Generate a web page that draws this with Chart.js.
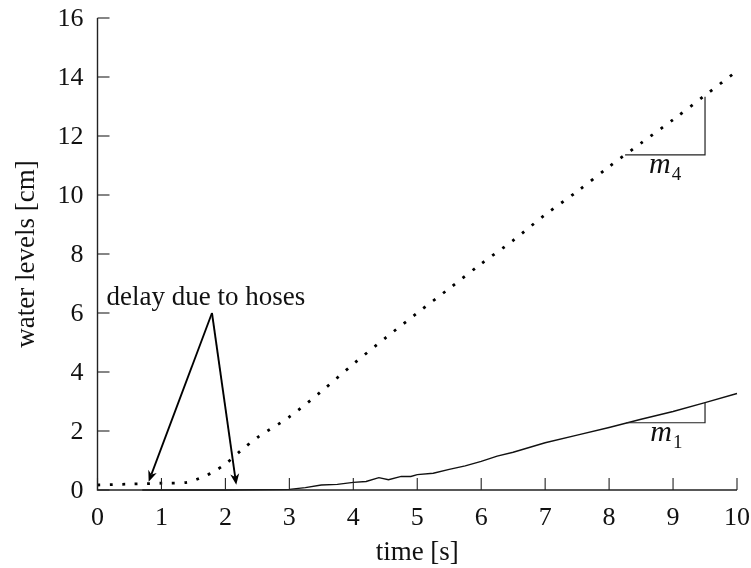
<!DOCTYPE html>
<html>
<head>
<meta charset="utf-8">
<title>water levels</title>
<script src="https://cdn.jsdelivr.net/npm/chart.js@4/dist/chart.umd.min.js"></script>
<style>
  body { margin: 0; background: #fff; }
  #wrap { width: 751px; height: 568px; }
  .warm { position: absolute; left: -999px; top: 0; font-family: "Liberation Serif"; }
</style>
</head>
<body>
<div id="wrap"><canvas id="levelChart" width="751" height="568"></canvas></div>
<span class="warm">delay 0123456789</span><span class="warm" style="font-style:italic">m</span>
<script>
// tank 4 (dotted) and tank 1 (solid)
const time4 = [0, 0.5, 1.0, 1.4, 1.6, 1.8, 2.0, 2.25, 2.5, 3.0, 3.5, 4.0, 4.5, 5.0, 5.5, 6.0, 6.5, 7.0, 7.5, 8.0, 8.5, 9.0, 9.5, 10.0];
const level4 = [0.17, 0.2, 0.23, 0.26, 0.4, 0.6, 0.88, 1.35, 1.78, 2.48, 3.34, 4.27, 5.15, 6.0, 6.83, 7.67, 8.46, 9.33, 10.12, 10.96, 11.76, 12.55, 13.38, 14.2];

const time1 = [0.7, 2.0, 3.0, 3.25, 3.5, 3.75, 4.0, 4.2, 4.4, 4.55, 4.75, 4.9, 5.0, 5.25, 5.5, 5.75, 6.0, 6.25, 6.5, 7.0, 7.5, 8.0, 8.5, 9.0, 9.5, 10.0];
const level1 = [0, 0, 0.02, 0.08, 0.17, 0.19, 0.26, 0.29, 0.42, 0.35, 0.46, 0.46, 0.52, 0.57, 0.7, 0.82, 0.97, 1.15, 1.28, 1.6, 1.86, 2.12, 2.4, 2.66, 2.96, 3.27];

const xTicks = [0, 1, 2, 3, 4, 5, 6, 7, 8, 9, 10];
const yTicks = [0, 2, 4, 6, 8, 10, 12, 14, 16];

// annotations in data units
const delayText = 'delay due to hoses';
const arrowFrom = [1.79, 6.0];
const arrowTips = [[0.8, 0.28], [2.17, 0.18]];
const slope4 = [8.25, 9.5, 11.36, 13.33];
const slope1 = [8.27, 9.5, 2.28, 2.96];

const serif = '"Liberation Serif", "DejaVu Serif", serif';

function toPoints(xs, ys) {
  return xs.map((x, i) => ({ x: x, y: ys[i] }));
}

function arrow(ctx, x0, y0, x1, y1) {
  const a = Math.atan2(y1 - y0, x1 - x0);
  const len = 11, half = 4.5;
  ctx.beginPath();
  ctx.moveTo(x0, y0);
  ctx.lineTo(x1 - Math.cos(a) * len * 0.7, y1 - Math.sin(a) * len * 0.7);
  ctx.stroke();
  ctx.beginPath();
  ctx.moveTo(x1, y1);
  ctx.lineTo(x1 - Math.cos(a) * len - Math.sin(a) * half, y1 - Math.sin(a) * len + Math.cos(a) * half);
  ctx.lineTo(x1 - Math.cos(a) * len * 0.7, y1 - Math.sin(a) * len * 0.7);
  ctx.lineTo(x1 - Math.cos(a) * len + Math.sin(a) * half, y1 - Math.sin(a) * len - Math.cos(a) * half);
  ctx.closePath();
  ctx.fill();
}

function slopeMark(ctx, xs, ys, s, sub) {
  const xa = xs.getPixelForValue(s[0]), xb = xs.getPixelForValue(s[1]);
  const ya = ys.getPixelForValue(s[2]), yb = ys.getPixelForValue(s[3]);
  ctx.lineWidth = 1.2;
  ctx.beginPath();
  ctx.moveTo(xa, ya);
  ctx.lineTo(xb, ya);
  ctx.lineTo(xb, yb);
  ctx.stroke();
  ctx.font = 'italic 30px ' + serif;
  ctx.textAlign = 'left';
  ctx.textBaseline = 'alphabetic';
  ctx.fillText('m', xa + 24, ya + 18);
  const w = ctx.measureText('m').width;
  ctx.font = '19px ' + serif;
  ctx.fillText(sub, xa + 25 + w, ya + 25);
}

const axesPlugin = {
  id: 'latexAxes',
  afterDraw(chart) {
    const ctx = chart.ctx;
    const xs = chart.scales.x, ys = chart.scales.y;
    const left = xs.getPixelForValue(0), right = xs.getPixelForValue(10);
    const bottom = ys.getPixelForValue(0), top = ys.getPixelForValue(16);
    ctx.save();
    ctx.strokeStyle = '#222';
    ctx.fillStyle = '#111';
    ctx.lineWidth = 1.4;

    // axis lines
    ctx.beginPath();
    ctx.moveTo(left, top);
    ctx.lineTo(left, bottom);
    ctx.lineTo(right, bottom);
    ctx.stroke();

    // inward ticks + labels
    ctx.lineWidth = 1.1;
    ctx.font = '26px ' + serif;
    ctx.textBaseline = 'middle';
    ctx.textAlign = 'center';
    xTicks.forEach(t => {
      const px = xs.getPixelForValue(t);
      ctx.beginPath();
      ctx.moveTo(px, bottom);
      ctx.lineTo(px, bottom - 12);
      ctx.stroke();
      ctx.fillText(String(t), px, bottom + 28);
    });
    ctx.textAlign = 'right';
    yTicks.forEach(t => {
      const py = ys.getPixelForValue(t);
      ctx.beginPath();
      ctx.moveTo(left, py);
      ctx.lineTo(left + 12, py);
      ctx.stroke();
      ctx.fillText(String(t), left - 14, py + 1);
    });

    // axis titles
    ctx.font = '27px ' + serif;
    ctx.textAlign = 'center';
    ctx.fillText('time [s]', (left + right) / 2, bottom + 63);
    ctx.save();
    ctx.translate(27, (top + bottom) / 2);
    ctx.rotate(-Math.PI / 2);
    ctx.fillText('water levels [cm]', 0, 0);
    ctx.restore();

    // delay annotation
    ctx.textAlign = 'left';
    ctx.textBaseline = 'alphabetic';
    ctx.fillText(delayText, left + 9, ys.getPixelForValue(6.27));
    ctx.lineWidth = 1.9;
    ctx.strokeStyle = '#000';
    ctx.fillStyle = '#000';
    const ox = xs.getPixelForValue(arrowFrom[0]), oy = ys.getPixelForValue(arrowFrom[1]);
    arrowTips.forEach(tp => {
      arrow(ctx, ox, oy, xs.getPixelForValue(tp[0]), ys.getPixelForValue(tp[1]));
    });

    // slope triangles
    ctx.strokeStyle = '#222';
    ctx.fillStyle = '#111';
    slopeMark(ctx, xs, ys, slope4, '4');
    slopeMark(ctx, xs, ys, slope1, '1');
    ctx.restore();
  }
};

function drawChart() {
  new Chart(document.getElementById('levelChart'), {
    type: 'line',
    data: {
      datasets: [{
        label: 'tank 4',
        data: toPoints(time4, level4),
        borderColor: '#000',
        borderWidth: 2.8,
        borderDash: [2.8, 9.6],
        borderCapStyle: 'butt',
        pointRadius: 0,
        tension: 0.3,
        fill: false,
        clip: false
      }, {
        label: 'tank 1',
        data: toPoints(time1, level1),
        borderColor: '#111',
        borderWidth: 1.4,
        pointRadius: 0,
        tension: 0,
        fill: false,
        clip: false
      }]
    },
    options: {
      responsive: false,
      animation: false,
      layout: { padding: { left: 97.5, right: 14, top: 18, bottom: 78 } },
      scales: {
        x: { type: 'linear', min: 0, max: 10, display: false },
        y: { type: 'linear', min: 0, max: 16, display: false }
      },
      plugins: {
        legend: { display: false },
        tooltip: { enabled: false }
      }
    },
    plugins: [axesPlugin]
  });
}

Promise.all([
  document.fonts.load('26px "Liberation Serif"'),
  document.fonts.load('italic 30px "Liberation Serif"')
]).then(drawChart, drawChart);
</script>
</body>
</html>
